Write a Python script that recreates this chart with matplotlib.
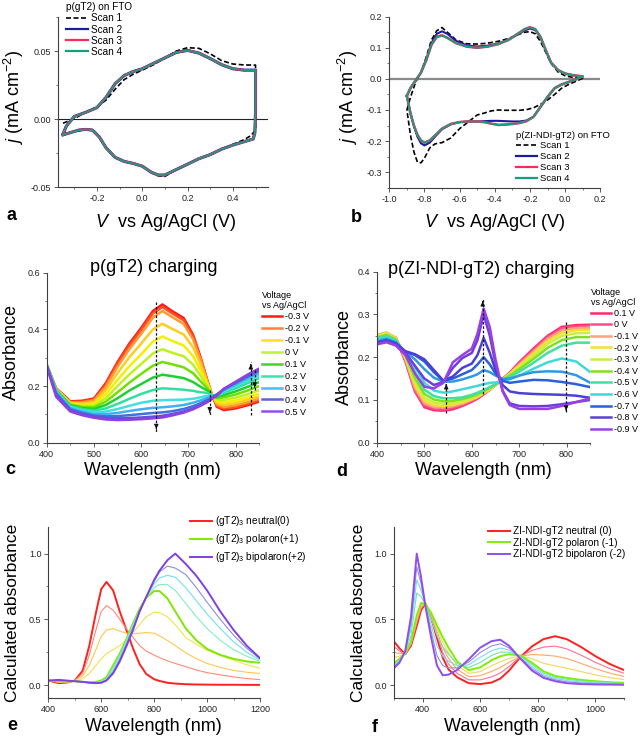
import matplotlib
matplotlib.use("Agg")
import matplotlib.pyplot as plt
from matplotlib.lines import Line2D
from matplotlib.ticker import MultipleLocator, FormatStrFormatter

plt.rcParams['font.family'] = ['Liberation Sans', 'DejaVu Sans']
plt.rcParams['mathtext.fontset'] = 'custom'
plt.rcParams['mathtext.rm'] = 'Liberation Sans'
plt.rcParams['mathtext.it'] = 'Liberation Sans:italic'
plt.rcParams['axes.unicode_minus'] = False

# ---------------- panel a: CV of p(gT2) ----------------
a_up_v = [-0.35, -0.335, -0.30, -0.25, -0.20, -0.16, -0.12, -0.08, -0.04, 0.00, 0.05, 0.10, 0.15, 0.20, 0.25, 0.30, 0.35, 0.40, 0.45, 0.50, 0.50, 0.497]
a_up_j = [-0.011, -0.005, 0.002, 0.005, 0.0085, 0.016, 0.026, 0.032, 0.035, 0.037, 0.041, 0.045, 0.049, 0.0505, 0.0485, 0.0445, 0.040, 0.037, 0.036, 0.036, 0.006, -0.010]
a_dn_v = [0.49, 0.45, 0.40, 0.35, 0.30, 0.25, 0.20, 0.15, 0.10, 0.07, 0.04, 0.00, -0.04, -0.08, -0.12, -0.16, -0.19, -0.22, -0.25, -0.28, -0.31, -0.35]
a_dn_j = [-0.0145, -0.0165, -0.019, -0.022, -0.026, -0.029, -0.033, -0.037, -0.041, -0.041, -0.039, -0.0345, -0.0325, -0.031, -0.028, -0.021, -0.013, -0.008, -0.0075, -0.008, -0.0095, -0.0115]
a_s1_up_v = [-0.35, -0.30, -0.25, -0.20, -0.16, -0.12, -0.08, -0.04, 0.00, 0.05, 0.10, 0.15, 0.20, 0.25, 0.30, 0.35, 0.40, 0.45, 0.50, 0.50]
a_s1_up_j = [-0.003, 0.0005, 0.005, 0.009, 0.014, 0.022, 0.029, 0.033, 0.036, 0.040, 0.045, 0.050, 0.0525, 0.052, 0.048, 0.043, 0.0405, 0.0398, 0.0397, -0.008]
a_s1_dn_v = [0.48, 0.45, 0.40, 0.35, 0.30, 0.25, 0.20, 0.15, 0.10, 0.07, 0.04, 0.00, -0.04, -0.08, -0.12, -0.16, -0.19, -0.22, -0.25, -0.28, -0.31, -0.35]
a_s1_dn_j = [-0.012, -0.015, -0.0185, -0.022, -0.026, -0.029, -0.033, -0.037, -0.042, -0.0415, -0.039, -0.0345, -0.0325, -0.031, -0.028, -0.021, -0.013, -0.008, -0.0075, -0.0085, -0.0095, -0.011]

# ---------------- panel b: CV of p(ZI-NDI-gT2) ----------------
b_up_v = [-0.90, -0.88, -0.85, -0.82, -0.79, -0.76, -0.73, -0.70, -0.67, -0.62, -0.56, -0.50, -0.44, -0.38, -0.32, -0.27, -0.23, -0.20, -0.17, -0.14, -0.11, -0.08, -0.04, 0.00, 0.05, 0.10]
b_dn_v = [0.10, 0.06, 0.02, -0.02, -0.06, -0.10, -0.14, -0.18, -0.22, -0.26, -0.30, -0.34, -0.38, -0.42, -0.46, -0.50, -0.55, -0.60, -0.65, -0.70, -0.74, -0.77, -0.80, -0.82, -0.84, -0.86, -0.88, -0.90]
b_s1_up = [-0.100, -0.060, -0.010, 0.020, 0.070, 0.125, 0.155, 0.165, 0.150, 0.125, 0.113, 0.112, 0.115, 0.121, 0.130, 0.142, 0.150, 0.152, 0.145, 0.120, 0.085, 0.050, 0.022, 0.010, 0.004, 0.002]
b_s1_dn = [0.002, -0.008, -0.018, -0.030, -0.050, -0.068, -0.082, -0.093, -0.099, -0.101, -0.101, -0.101, -0.100, -0.103, -0.110, -0.116, -0.138, -0.160, -0.190, -0.205, -0.209, -0.222, -0.255, -0.270, -0.268, -0.235, -0.180, -0.100]
b_s2_up = [-0.055, -0.030, -0.005, 0.020, 0.062, 0.115, 0.145, 0.153, 0.145, 0.122, 0.108, 0.104, 0.107, 0.114, 0.127, 0.143, 0.156, 0.162, 0.157, 0.133, 0.091, 0.052, 0.028, 0.017, 0.011, 0.008]
b_s2_dn = [0.008, -0.002, -0.010, -0.018, -0.030, -0.058, -0.090, -0.122, -0.134, -0.137, -0.137, -0.136, -0.135, -0.135, -0.136, -0.137, -0.137, -0.139, -0.146, -0.162, -0.186, -0.205, -0.214, -0.207, -0.186, -0.152, -0.110, -0.055]
b_s4_up = [-0.055, -0.030, -0.005, 0.020, 0.060, 0.110, 0.135, 0.140, 0.132, 0.115, 0.104, 0.100, 0.104, 0.112, 0.126, 0.145, 0.160, 0.166, 0.160, 0.135, 0.092, 0.052, 0.028, 0.017, 0.011, 0.008]
b_s4_dn = [0.008, -0.002, -0.010, -0.018, -0.030, -0.058, -0.090, -0.122, -0.136, -0.142, -0.145, -0.147, -0.148, -0.144, -0.139, -0.137, -0.137, -0.139, -0.145, -0.160, -0.182, -0.198, -0.205, -0.198, -0.180, -0.150, -0.110, -0.055]

# ---------------- panel c: p(gT2) charging spectra ----------------
c_wl = [400, 420, 450, 475, 500, 525, 550, 575, 600, 625, 645, 665, 690, 710, 725, 740, 750, 760, 775, 800, 825, 850]
c_abs = [
    [0.275, 0.192, 0.146, 0.148, 0.156, 0.210, 0.285, 0.350, 0.405, 0.465, 0.488, 0.465, 0.440, 0.380, 0.305, 0.220, 0.168, 0.127, 0.115, 0.121, 0.132, 0.145],
    [0.275, 0.191, 0.144, 0.145, 0.153, 0.205, 0.279, 0.343, 0.398, 0.457, 0.479, 0.457, 0.432, 0.374, 0.302, 0.219, 0.168, 0.131, 0.120, 0.126, 0.137, 0.150],
    [0.275, 0.190, 0.142, 0.142, 0.149, 0.197, 0.268, 0.330, 0.384, 0.442, 0.465, 0.444, 0.419, 0.364, 0.296, 0.217, 0.168, 0.135, 0.126, 0.132, 0.143, 0.156],
    [0.275, 0.189, 0.140, 0.138, 0.143, 0.184, 0.246, 0.302, 0.350, 0.400, 0.420, 0.402, 0.382, 0.336, 0.279, 0.212, 0.168, 0.141, 0.134, 0.140, 0.151, 0.164],
    [0.275, 0.188, 0.138, 0.134, 0.137, 0.170, 0.222, 0.270, 0.312, 0.357, 0.375, 0.360, 0.343, 0.305, 0.258, 0.206, 0.168, 0.146, 0.142, 0.149, 0.160, 0.173],
    [0.275, 0.187, 0.136, 0.130, 0.131, 0.157, 0.200, 0.241, 0.278, 0.315, 0.330, 0.318, 0.305, 0.275, 0.238, 0.199, 0.168, 0.152, 0.151, 0.159, 0.171, 0.185],
    [0.275, 0.186, 0.134, 0.126, 0.125, 0.145, 0.178, 0.212, 0.243, 0.272, 0.285, 0.277, 0.266, 0.245, 0.218, 0.192, 0.168, 0.157, 0.160, 0.170, 0.184, 0.200],
    [0.275, 0.185, 0.132, 0.122, 0.119, 0.133, 0.157, 0.184, 0.207, 0.230, 0.240, 0.235, 0.228, 0.214, 0.198, 0.184, 0.168, 0.162, 0.168, 0.181, 0.197, 0.214],
    [0.275, 0.184, 0.129, 0.118, 0.113, 0.121, 0.137, 0.155, 0.172, 0.186, 0.192, 0.190, 0.187, 0.183, 0.178, 0.176, 0.168, 0.166, 0.176, 0.192, 0.210, 0.228],
    [0.274, 0.182, 0.126, 0.114, 0.107, 0.110, 0.119, 0.130, 0.141, 0.148, 0.150, 0.151, 0.152, 0.155, 0.160, 0.166, 0.166, 0.169, 0.182, 0.200, 0.219, 0.238],
    [0.273, 0.179, 0.122, 0.110, 0.101, 0.101, 0.105, 0.112, 0.118, 0.123, 0.125, 0.128, 0.133, 0.141, 0.149, 0.158, 0.163, 0.170, 0.186, 0.206, 0.227, 0.247],
    [0.272, 0.174, 0.118, 0.105, 0.096, 0.093, 0.094, 0.097, 0.101, 0.105, 0.107, 0.111, 0.119, 0.129, 0.139, 0.151, 0.160, 0.170, 0.189, 0.211, 0.233, 0.254],
    [0.271, 0.168, 0.114, 0.101, 0.092, 0.087, 0.086, 0.087, 0.089, 0.092, 0.095, 0.101, 0.110, 0.121, 0.132, 0.146, 0.157, 0.168, 0.190, 0.214, 0.238, 0.259],
    [0.270, 0.162, 0.110, 0.097, 0.088, 0.082, 0.080, 0.081, 0.083, 0.086, 0.089, 0.096, 0.106, 0.118, 0.130, 0.143, 0.155, 0.166, 0.190, 0.215, 0.240, 0.262],
]
c_colors = ['#ff1a1a', '#ff5020', '#ff9a30', '#ffcc20', '#f2f000', '#c0f020', '#70e000',
            '#20d030', '#30e0a0', '#40e0e0', '#40b0f0', '#4070e0', '#6050d8', '#9040e0']
c_labels = ['-0.3 V', '-0.2 V', '-0.1 V', '0 V', '0.1 V', '0.2 V', '0.3 V', '0.4 V', '0.5 V']
c_label_colors = ['#ff1a1a', '#ff8040', '#ffe020', '#c0f040', '#40d820', '#40e0b0', '#40c0f0', '#6060d8', '#9050e8']
c_arrows = [(632, 0.498, 0.039), (745, 0.186, 0.098), (832, 0.098, 0.286), (840, 0.256, 0.186)]

# ---------------- panel d: p(ZI-NDI-gT2) charging spectra ----------------
d_wl = [400, 420, 440, 460, 480, 500, 520, 540, 560, 580, 600, 612, 625, 638, 650, 665, 680, 700, 730, 760, 790, 820, 850]
d_abs = [
    [0.250, 0.256, 0.245, 0.190, 0.120, 0.083, 0.076, 0.075, 0.078, 0.086, 0.096, 0.103, 0.113, 0.124, 0.135, 0.149, 0.164, 0.188, 0.220, 0.250, 0.271, 0.275, 0.276],
    [0.250, 0.255, 0.245, 0.192, 0.123, 0.087, 0.079, 0.078, 0.081, 0.088, 0.098, 0.105, 0.114, 0.124, 0.135, 0.149, 0.163, 0.186, 0.217, 0.247, 0.268, 0.272, 0.273],
    [0.252, 0.258, 0.245, 0.195, 0.128, 0.092, 0.083, 0.082, 0.085, 0.091, 0.100, 0.106, 0.115, 0.124, 0.135, 0.148, 0.162, 0.183, 0.213, 0.243, 0.263, 0.268, 0.269],
    [0.250, 0.257, 0.244, 0.198, 0.135, 0.098, 0.088, 0.086, 0.089, 0.094, 0.102, 0.108, 0.116, 0.125, 0.135, 0.148, 0.161, 0.180, 0.209, 0.238, 0.257, 0.263, 0.264],
    [0.248, 0.255, 0.243, 0.201, 0.143, 0.105, 0.094, 0.091, 0.093, 0.098, 0.105, 0.110, 0.118, 0.126, 0.135, 0.147, 0.159, 0.176, 0.203, 0.231, 0.250, 0.256, 0.257],
    [0.246, 0.252, 0.241, 0.204, 0.152, 0.114, 0.101, 0.097, 0.098, 0.102, 0.108, 0.113, 0.120, 0.128, 0.136, 0.147, 0.157, 0.172, 0.196, 0.222, 0.240, 0.247, 0.247],
    [0.244, 0.249, 0.239, 0.207, 0.163, 0.124, 0.109, 0.104, 0.104, 0.106, 0.112, 0.117, 0.123, 0.130, 0.137, 0.146, 0.154, 0.166, 0.187, 0.210, 0.227, 0.234, 0.234],
    [0.242, 0.246, 0.237, 0.209, 0.176, 0.140, 0.122, 0.117, 0.120, 0.125, 0.130, 0.133, 0.137, 0.140, 0.141, 0.143, 0.148, 0.157, 0.173, 0.188, 0.197, 0.190, 0.165],
    [0.238, 0.243, 0.235, 0.212, 0.195, 0.172, 0.152, 0.143, 0.143, 0.148, 0.155, 0.160, 0.170, 0.165, 0.157, 0.149, 0.150, 0.157, 0.165, 0.167, 0.166, 0.158, 0.140],
    [0.235, 0.240, 0.233, 0.213, 0.205, 0.190, 0.165, 0.145, 0.150, 0.160, 0.170, 0.183, 0.200, 0.183, 0.162, 0.145, 0.140, 0.143, 0.147, 0.146, 0.142, 0.137, 0.130],
    [0.233, 0.238, 0.231, 0.214, 0.207, 0.195, 0.170, 0.145, 0.155, 0.175, 0.185, 0.205, 0.245, 0.210, 0.170, 0.135, 0.120, 0.116, 0.114, 0.113, 0.112, 0.110, 0.105],
    [0.232, 0.236, 0.229, 0.210, 0.180, 0.150, 0.135, 0.142, 0.175, 0.198, 0.210, 0.240, 0.300, 0.250, 0.185, 0.122, 0.092, 0.086, 0.085, 0.086, 0.090, 0.095, 0.100],
    [0.230, 0.235, 0.227, 0.205, 0.162, 0.131, 0.127, 0.140, 0.188, 0.205, 0.220, 0.255, 0.314, 0.270, 0.195, 0.120, 0.088, 0.079, 0.079, 0.079, 0.086, 0.095, 0.104],
]
d_colors = ['#ff2a6a', '#ff4a90', '#ffa080', '#f5e030', '#c8f040', '#80e020', '#40e0a0',
            '#40d8d8', '#3098e0', '#2a60d8', '#4a40d8', '#6a3ee0', '#9a40e0']
d_labels = ['0.1 V', '0 V', '-0.1 V', '-0.2 V', '-0.3 V', '-0.4 V', '-0.5 V', '-0.6 V', '-0.7 V', '-0.8 V', '-0.9 V']
d_label_colors = ['#ff2a6a', '#ff4a90', '#ffa080', '#f5e030', '#c8f040', '#80e020', '#40e0a0',
                  '#40d8d8', '#2a60d8', '#5a40d8', '#9a40e0']
d_arrows = [(546, 0.069, 0.143), (623, 0.115, 0.337), (799, 0.283, 0.069)]

# ---------------- panel e: calculated (gT2)3 spectra ----------------
e_wl = [400, 440, 470, 500, 530, 555, 580, 600, 620, 645, 670, 695, 720, 745, 770, 800, 820, 850, 880, 920, 960, 1000, 1050, 1100, 1150, 1200]
e_abs = [
    [0.035, 0.015, 0.020, 0.035, 0.110, 0.300, 0.550, 0.730, 0.785, 0.720, 0.560, 0.420, 0.280, 0.160, 0.085, 0.045, 0.032, 0.018, 0.012, 0.007, 0.005, 0.004, 0.003, 0.003, 0.002, 0.002],
    [0.035, 0.020, 0.022, 0.035, 0.090, 0.230, 0.420, 0.560, 0.605, 0.570, 0.500, 0.430, 0.365, 0.300, 0.260, 0.228, 0.210, 0.185, 0.165, 0.140, 0.115, 0.095, 0.078, 0.063, 0.050, 0.042],
    [0.035, 0.025, 0.025, 0.035, 0.070, 0.150, 0.270, 0.370, 0.420, 0.430, 0.410, 0.395, 0.390, 0.395, 0.400, 0.395, 0.375, 0.340, 0.300, 0.245, 0.200, 0.165, 0.135, 0.112, 0.098, 0.089],
    [0.035, 0.025, 0.025, 0.030, 0.050, 0.090, 0.150, 0.200, 0.240, 0.270, 0.300, 0.340, 0.400, 0.460, 0.520, 0.555, 0.550, 0.520, 0.460, 0.360, 0.310, 0.265, 0.225, 0.190, 0.155, 0.128],
    [0.035, 0.030, 0.028, 0.030, 0.025, 0.022, 0.025, 0.035, 0.060, 0.150, 0.240, 0.350, 0.470, 0.580, 0.665, 0.715, 0.715, 0.660, 0.560, 0.430, 0.340, 0.275, 0.230, 0.200, 0.180, 0.170],
    [0.035, 0.035, 0.030, 0.030, 0.025, 0.020, 0.020, 0.030, 0.050, 0.130, 0.225, 0.340, 0.460, 0.570, 0.665, 0.740, 0.765, 0.765, 0.720, 0.620, 0.520, 0.430, 0.340, 0.270, 0.220, 0.180],
    [0.035, 0.035, 0.032, 0.030, 0.025, 0.020, 0.018, 0.025, 0.045, 0.115, 0.210, 0.325, 0.445, 0.565, 0.670, 0.770, 0.815, 0.835, 0.820, 0.740, 0.640, 0.540, 0.430, 0.330, 0.250, 0.190],
    [0.035, 0.035, 0.033, 0.030, 0.025, 0.020, 0.016, 0.020, 0.040, 0.100, 0.195, 0.310, 0.430, 0.555, 0.670, 0.790, 0.860, 0.905, 0.890, 0.840, 0.740, 0.630, 0.500, 0.380, 0.280, 0.200],
    [0.035, 0.040, 0.035, 0.030, 0.025, 0.018, 0.015, 0.018, 0.035, 0.090, 0.180, 0.295, 0.420, 0.560, 0.670, 0.800, 0.870, 0.950, 1.000, 0.920, 0.830, 0.720, 0.560, 0.420, 0.300, 0.205],
]
e_colors = ['#ff2020', '#ff8878', '#ffc850', '#f5e050', '#80e800', '#80f0c0', '#70e0f0', '#8890d8', '#8040e0']
e_widths = [1.4, 0.8, 0.8, 0.8, 1.4, 0.8, 0.8, 0.8, 1.4]
e_labels = ['(gT2)$_3$ neutral(0)', '(gT2)$_3$ polaron(+1)', '(gT2)$_3$ bipolaron(+2)']

# ---------------- panel f: calculated ZI-NDI-gT2 spectra ----------------
f_wl = [300, 320, 340, 360, 380, 395, 410, 430, 450, 470, 490, 520, 560, 600, 640, 670, 700, 740, 780, 820, 860, 900, 950, 1000, 1050, 1100]
f_abs = [
    [0.335, 0.280, 0.235, 0.300, 0.450, 0.570, 0.620, 0.510, 0.360, 0.210, 0.120, 0.060, 0.015, 0.008, 0.020, 0.050, 0.110, 0.215, 0.295, 0.350, 0.372, 0.350, 0.290, 0.220, 0.160, 0.114],
    [0.293, 0.260, 0.236, 0.308, 0.470, 0.584, 0.619, 0.520, 0.384, 0.249, 0.161, 0.090, 0.040, 0.040, 0.063, 0.093, 0.141, 0.218, 0.264, 0.289, 0.297, 0.276, 0.228, 0.173, 0.126, 0.090],
    [0.250, 0.240, 0.238, 0.315, 0.490, 0.598, 0.618, 0.530, 0.408, 0.288, 0.203, 0.120, 0.065, 0.072, 0.105, 0.135, 0.173, 0.220, 0.233, 0.228, 0.221, 0.203, 0.165, 0.125, 0.091, 0.066],
    [0.208, 0.220, 0.239, 0.323, 0.510, 0.611, 0.616, 0.540, 0.431, 0.326, 0.244, 0.150, 0.089, 0.103, 0.148, 0.178, 0.204, 0.223, 0.201, 0.166, 0.146, 0.129, 0.103, 0.078, 0.057, 0.042],
    [0.165, 0.200, 0.240, 0.330, 0.530, 0.625, 0.615, 0.550, 0.455, 0.365, 0.285, 0.180, 0.114, 0.135, 0.190, 0.220, 0.235, 0.225, 0.170, 0.105, 0.070, 0.055, 0.040, 0.030, 0.022, 0.018],
    [0.155, 0.192, 0.245, 0.378, 0.700, 0.674, 0.611, 0.502, 0.379, 0.292, 0.234, 0.164, 0.134, 0.172, 0.226, 0.251, 0.251, 0.219, 0.155, 0.092, 0.060, 0.045, 0.032, 0.024, 0.018, 0.014],
    [0.146, 0.185, 0.250, 0.425, 0.800, 0.722, 0.608, 0.455, 0.302, 0.220, 0.182, 0.148, 0.155, 0.210, 0.262, 0.282, 0.268, 0.212, 0.140, 0.080, 0.050, 0.035, 0.024, 0.018, 0.013, 0.010],
    [0.136, 0.178, 0.255, 0.473, 0.900, 0.771, 0.604, 0.408, 0.226, 0.148, 0.131, 0.131, 0.175, 0.248, 0.299, 0.314, 0.284, 0.206, 0.125, 0.068, 0.040, 0.025, 0.016, 0.011, 0.008, 0.007],
    [0.127, 0.170, 0.260, 0.520, 1.000, 0.820, 0.600, 0.360, 0.150, 0.075, 0.080, 0.115, 0.195, 0.285, 0.335, 0.345, 0.300, 0.200, 0.110, 0.055, 0.030, 0.015, 0.008, 0.005, 0.004, 0.003],
]
f_colors = ['#ff2020', '#ff7090', '#ffa868', '#f0d860', '#80ee00', '#70e8b0', '#80d8f0', '#9090e0', '#9050e8']
f_widths = [1.4, 0.8, 0.8, 0.8, 1.4, 0.8, 0.8, 0.8, 1.4]
f_labels = ['ZI-NDI-gT2 neutral (0)', 'ZI-NDI-gT2 polaron (-1)', 'ZI-NDI-gT2 bipolaron (-2)']

# ---------------- layout ----------------
W, H = 642, 738
fig = plt.figure(figsize=(W / 100, H / 100), dpi=100)
SPINE = '#404040'


def make_ax(l, r, t, b, xlim, ylim, xmaj, ymaj, xfmt, yfmt):
    ax = fig.add_axes([l / W, 1 - b / H, (r - l) / W, (b - t) / H])
    ax.set_xlim(*xlim)
    ax.set_ylim(*ylim)
    for s in ['top', 'right']:
        ax.spines[s].set_visible(False)
    for s in ['left', 'bottom']:
        ax.spines[s].set_color(SPINE)
        ax.spines[s].set_linewidth(0.8)
    ax.xaxis.set_major_locator(MultipleLocator(xmaj))
    ax.yaxis.set_major_locator(MultipleLocator(ymaj))
    ax.xaxis.set_minor_locator(MultipleLocator(xmaj / 2))
    ax.yaxis.set_minor_locator(MultipleLocator(ymaj / 2))
    ax.xaxis.set_major_formatter(FormatStrFormatter(xfmt))
    ax.yaxis.set_major_formatter(FormatStrFormatter(yfmt))
    ax.tick_params(which='major', direction='out', length=3, width=0.6, labelsize=6.5,
                   color=SPINE, labelcolor='#222222', pad=2)
    ax.tick_params(which='minor', direction='out', length=1.6, width=0.5, color=SPINE)
    return ax


def labels(ax, xl, yl, xpos, ypos, size=13):
    ax.set_xlabel(xl, fontsize=size)
    ax.set_ylabel(yl, fontsize=size)
    ax.xaxis.set_label_coords(*xpos)
    ax.yaxis.set_label_coords(*ypos)


def legend(ax, handles, texts, x, y, title=None, size=6.8, spacing=0.2, hl=2.2):
    leg = ax.legend(handles, texts, loc='upper left', bbox_to_anchor=(x / W, 1 - y / H),
                    bbox_transform=fig.transFigure, frameon=False, fontsize=size,
                    handlelength=hl, handletextpad=0.3, labelspacing=spacing, borderpad=0,
                    borderaxespad=0, title=title, title_fontsize=size, alignment='left')
    leg._legend_box.sep = 1
    return leg


def arrows(ax, arr, head):
    for x, y0, y1 in arr:
        ax.plot([x, x], [y0, y1], color='#111111', lw=0.9, ls=(0, (2, 1.5)))
        d = head if y1 > y0 else -head
        ax.annotate('', xy=(x, y1), xytext=(x, y1 - d),
                    arrowprops=dict(arrowstyle='-|>', color='#111111', lw=0.8, mutation_scale=6))


# panel a
ax = make_ax(58, 268, 17, 187.3, (-0.372, 0.555), (-0.05, 0.075), 0.2, 0.05, '%.1f', '%.2f')
ax.axhline(0, color='#222222', lw=0.8)
ax.plot(a_s1_up_v + a_s1_dn_v, a_s1_up_j + a_s1_dn_j, color='k', lw=1.2, ls=(0, (3, 1.5)))
ax.plot(a_up_v + a_dn_v, a_up_j + a_dn_j, color='#1c1c9c', lw=2.2)
ax.plot(a_up_v + a_dn_v, a_up_j + a_dn_j, color='#ff2a5a', lw=1.7)
ax.plot(a_up_v + a_dn_v, a_up_j + a_dn_j, color='#14a07c', lw=1.2)
labels(ax, '$V$  vs Ag/AgCl (V)', '$j$ (mA cm$^{-2}$)', (0.51, -0.143), (-0.151, 0.53))
hs = [Line2D([], [], color='k', lw=1.2, ls=(0, (3, 1.5))), Line2D([], [], color='#1c1c9c', lw=1.6),
      Line2D([], [], color='#ff2a5a', lw=1.6), Line2D([], [], color='#14a07c', lw=1.6)]
legend(ax, hs, ['Scan 1', 'Scan 2', 'Scan 3', 'Scan 4'], 66, 2, title='p(gT2) on FTO', size=7.2, spacing=0.12)

# panel b
ax = make_ax(389.3, 600.3, 16.7, 187.7, (-1.0, 0.2), (-0.35, 0.2), 0.2, 0.1, '%.1f', '%.1f')
ax.axhline(0, color='#8a8a8a', lw=1.6)
ax.plot(b_up_v + b_dn_v, b_s1_up + b_s1_dn, color='k', lw=1.2, ls=(0, (3, 1.5)))
ax.plot(b_up_v + b_dn_v, b_s2_up + b_s2_dn, color='#1c1c9c', lw=1.5)
ax.plot(b_up_v + b_dn_v, b_s4_up + b_s4_dn, color='#ff2a5a', lw=1.9)
ax.plot(b_up_v + b_dn_v, b_s4_up + b_s4_dn, color='#14a07c', lw=1.3)
labels(ax, '$V$  vs Ag/AgCl (V)', '$j$ (mA cm$^{-2}$)', (0.50, -0.142), (-0.139, 0.53))
legend(ax, hs, ['Scan 1', 'Scan 2', 'Scan 3', 'Scan 4'], 516, 131, title='p(ZI-NDI-gT2) on FTO')

# panel c
ax = make_ax(46.7, 259.3, 272.7, 442.7, (400, 850), (0, 0.6), 100, 0.2, '%d', '%.1f')
for vals, col in zip(c_abs, c_colors):
    ax.plot(c_wl, vals, color=col, lw=1.8)
arrows(ax, c_arrows, 0.02)
ax.text(0.505, 1.03, 'p(gT2) charging', transform=ax.transAxes, ha='center', va='center', fontsize=13)
labels(ax, 'Wavelength (nm)', 'Absorbance', (0.495, -0.112), (-0.126, 0.533))
hs = [Line2D([], [], color=c, lw=1.8) for c in c_label_colors]
legend(ax, hs, c_labels, 262, 291, title='Voltage\nvs Ag/AgCl', size=6.5, spacing=0.33)

# panel d
ax = make_ax(377, 590.3, 271.7, 442.7, (400, 850), (0, 0.4), 100, 0.1, '%d', '%.1f')
for vals, col in zip(d_abs, d_colors):
    ax.plot(d_wl, vals, color=col, lw=1.8)
arrows(ax, d_arrows, 0.014)
ax.text(0.49, 1.01, 'p(ZI-NDI-gT2) charging', transform=ax.transAxes, ha='center', va='center', fontsize=13)
labels(ax, 'Wavelength (nm)', 'Absorbance', (0.497, -0.112), (-0.113, 0.503))
hs = [Line2D([], [], color=c, lw=1.8) for c in d_label_colors]
legend(ax, hs, d_labels, 591, 288, title='Voltage\nvs Ag/AgCl', size=6.5, spacing=0.29)

# panel e
ax = make_ax(48.3, 260, 527.3, 698.3, (400, 1200), (-0.1, 1.2), 200, 0.5, '%d', '%.1f')
lines = []
for vals, col, lw in zip(e_abs, e_colors, e_widths):
    lines += ax.plot(e_wl, vals, color=col, lw=lw)
labels(ax, 'Wavelength (nm)', 'Calculated absorbance', (0.495, -0.115), (-0.134, 0.5), size=12.5)
ax.xaxis.label.set_size(13)
legend(ax, [lines[0], lines[4], lines[8]], e_labels, 190, 514, size=7.2, spacing=0.4)

# panel f
ax = make_ax(393.7, 624.3, 527.3, 698.3, (300, 1100), (-0.1, 1.2), 200, 0.5, '%d', '%.1f')
ax.set_xticks([400, 600, 800, 1000])
lines = []
for vals, col, lw in zip(f_abs, f_colors, f_widths):
    lines += ax.plot(f_wl, vals, color=col, lw=lw)
labels(ax, 'Wavelength (nm)', 'Calculated absorbance', (0.513, -0.115), (-0.12, 0.5), size=12.5)
ax.xaxis.label.set_size(13)
legend(ax, [lines[0], lines[4], lines[8]], f_labels, 488, 526, size=7.2, spacing=0.15)

# panel letters
for letter, x, y in [('a', 12, 216), ('b', 356, 218), ('c', 10, 470), ('d', 342, 471), ('e', 12, 725), ('f', 375, 727)]:
    fig.text(x / W, 1 - y / H, letter, fontsize=13, fontweight='bold', ha='center', va='center')

fig.savefig('out.png', dpi=100)
